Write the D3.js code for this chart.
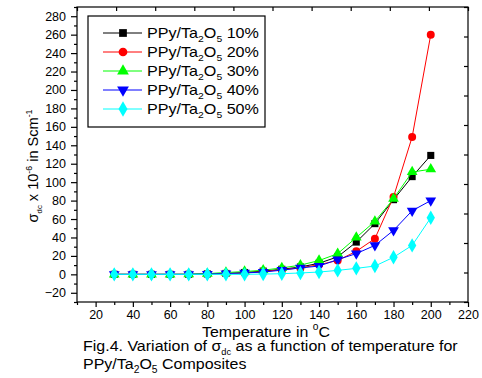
<!DOCTYPE html>
<html>
<head>
<meta charset="utf-8">
<script src="https://cdn.jsdelivr.net/npm/d3@7"></script>
<style>
    body { margin: 0; background: #fff; }
    svg text { font-family: "Liberation Sans", Arial, sans-serif; fill: #000; }
</style>
</head>
<body>
<svg id="chart" width="482" height="378"></svg>
<script>
// temperatures (°C) and conductivity values (x 10^-6 S/cm)
let temps = [30, 40, 50, 60, 70, 80, 90, 100, 110, 120, 130, 140, 150, 160, 170, 180, 190, 200];
let s10 = [0, 0, 0, 0, 0, 0.5, 1, 2, 3.5, 5.5, 8, 12, 19, 35, 55, 81, 106, 129];
let s20 = [0, 0, 0, 0, 0, 0.3, 0.8, 1.5, 3, 5, 7, 10.5, 15, 25, 38.7, 84, 149, 260];
let s30 = [0, 0, 0, 0, 0.2, 0.8, 2, 3, 4.5, 7, 10, 15, 22.4, 40, 57.4, 82, 111, 114];
let s40 = [0, 0, 0, 0, 0, 0.3, 0.8, 1.5, 2.5, 4.5, 7, 9, 16, 22.5, 31.4, 47.7, 69, 80];
let s50 = [0, 0, 0, 0, 0, 0, 0, 0, 0.3, 0.7, 1.5, 2.5, 4.3, 6.5, 9, 18.5, 31.4, 61.4];
let percents = ["10%", "20%", "30%", "40%", "50%"];
let colors = ["#000000", "#ff0000", "#00ff00", "#0000ff", "#00ffff"];
let xTicks = [20, 40, 60, 80, 100, 120, 140, 160, 180, 200, 220];
let yTicks = [-20, 0, 20, 40, 60, 80, 100, 120, 140, 160, 180, 200, 220, 240, 260, 280];

let series = [s10, s20, s30, s40, s50].map(function(vals, i) {
    return {
        name: percents[i],
        color: colors[i],
        shape: [d3.symbolSquare, d3.symbolCircle, d3.symbolTriangle, d3.symbolTriangle, d3.symbolDiamond][i],
        flip: i === 3,
        points: temps.map(function(t, j) { return [t, vals[j]]; })
    };
});

let svg = d3.select("svg#chart"),
    margin = {top: 7, right: 14, bottom: 76, left: 77},
    width = +svg.attr("width") - margin.left - margin.right,
    height = +svg.attr("height") - margin.top - margin.bottom,
    g = svg.append("g").attr("transform", "translate(" + margin.left + "," + margin.top + ")");

let x = d3.scaleLinear().domain([10, 220]).range([0, width]);
let y = d3.scaleLinear().domain([-30, 290]).range([height, 0]);

let line = d3.line()
    .x(function(d) { return x(d[0]); })
    .y(function(d) { return y(d[1]); });

// squeeze / stretch a text horizontally so it spans the given width (the scan isn't square)
function fit(sel, target, before) {
    let w = sel.node().getBBox().width;
    sel.attr("transform", before + " scale(" + (target / w) + ",1)");
    return target / w;
}

// frame
g.append("rect")
    .attr("width", width)
    .attr("height", height)
    .attr("fill", "none")
    .attr("stroke", "#000")
    .attr("stroke-width", 1.2);

// bottom axis, major + minor
g.append("g")
    .attr("transform", "translate(0," + height + ")")
    .call(d3.axisBottom(x).tickValues(xTicks).tickSize(5).tickPadding(3).tickFormat(d3.format("d")));
g.append("g")
    .attr("transform", "translate(0," + height + ")")
    .call(d3.axisBottom(x).tickValues(d3.range(10, 221, 10).filter(function(v) { return v % 20 !== 0; })).tickSize(3).tickFormat(""));

// left axis, major + minor
g.append("g")
    .call(d3.axisLeft(y).tickValues(yTicks).tickSize(6).tickPadding(5).tickFormat(d3.format("d")));
g.append("g")
    .call(d3.axisLeft(y).tickValues(d3.range(-30, 291, 10).filter(function(v) { return v % 20 !== 0; })).tickSize(3).tickFormat(""));

// top and right axes have their own even spacing
g.append("g")
    .call(d3.axisBottom(x).tickValues(d3.range(10, 221, 21)).tickSize(4).tickFormat(""));
g.append("g")
    .attr("transform", "translate(" + width + ",0)")
    .call(d3.axisLeft(y).tickValues(d3.range(-30, 291, 32)).tickSize(4).tickFormat(""));

g.selectAll(".domain").remove();
g.selectAll(".tick line").attr("stroke", "#000").attr("stroke-width", 1.2);
g.selectAll(".tick text").attr("font-size", 12.5).attr("fill", "#000");

// lines and markers
let s = g.selectAll("g.series")
    .data(series)
    .enter().append("g")
    .attr("class", "series");

s.append("path")
    .attr("d", function(d) { return line(d.points); })
    .attr("fill", "none")
    .attr("stroke", function(d) { return d.color; })
    .attr("stroke-width", 1);

s.each(function(d) {
    let sym = d3.symbol().type(d.shape).size(d.shape === d3.symbolDiamond ? 60 : 50);
    d3.select(this).selectAll("path.pt")
        .data(d.points)
        .enter().append("path")
        .attr("class", "pt")
        .attr("d", sym)
        .attr("transform", function(p) {
            return "translate(" + x(p[0]) + "," + y(p[1]) + ")" + (d.flip ? " rotate(180)" : "");
        })
        .attr("fill", d.color);
});

// legend
let legend = g.append("g").attr("transform", "translate(11,9)");
legend.append("rect")
    .attr("width", 177)
    .attr("height", 111)
    .attr("fill", "#fff")
    .attr("stroke", "#000")
    .attr("stroke-width", 1.2);

let item = legend.selectAll("g.item")
    .data(series)
    .enter().append("g")
    .attr("class", "item")
    .attr("transform", function(d, i) { return "translate(0," + (17 + i * 19) + ")"; });

item.append("line")
    .attr("x1", 15).attr("x2", 54)
    .attr("stroke", function(d) { return d.color; })
    .attr("stroke-width", 1);
item.append("path")
    .attr("d", function(d) { return d3.symbol().type(d.shape).size(d.shape === d3.symbolDiamond ? 70 : 60)(); })
    .attr("transform", function(d) { return "translate(35,0)" + (d.flip ? " rotate(180)" : ""); })
    .attr("fill", function(d) { return d.color; });

item.each(function() {
    let lt = d3.select(this).append("text")
        .attr("y", 5)
        .attr("font-size", 14);
    lt.append("tspan").text("PPy/Ta");
    lt.append("tspan").attr("font-size", 9).attr("dy", 4).text("2");
    lt.append("tspan").attr("dy", -4).text("O");
    lt.append("tspan").attr("font-size", 9).attr("dy", 4).text("5");
    lt.append("tspan").attr("dy", -4).text(function(d) { return " " + d.name; });
    fit(lt, 112, "translate(59,0)");
});

// y axis title
let yt = svg.append("text")
    .attr("text-anchor", "middle")
    .attr("font-size", 15);
yt.append("tspan").text("σ");
yt.append("tspan").attr("font-size", 8).attr("dy", 4).text("dc");
yt.append("tspan").attr("dy", -4).text(" x 10");
yt.append("tspan").attr("font-size", 9).attr("dy", -6).text("-6");
yt.append("tspan").attr("dy", 6).text(" in Scm");
yt.append("tspan").attr("font-size", 9).attr("dy", -6).text("-1");
fit(yt, 113, "translate(38,166) rotate(-90)");

// x axis title
let xt = svg.append("text")
    .attr("y", 337)
    .attr("font-size", 15.5);
xt.append("tspan").text("Temperature in ");
xt.append("tspan").attr("font-size", 10).attr("dy", -7).text("o");
xt.append("tspan").attr("dy", 7).text("C");
fit(xt, 128, "translate(202,0)");

// caption
let c1 = svg.append("text").attr("y", 351).attr("font-size", 15.5);
c1.append("tspan").text("Fig.4. Variation of σ");
c1.append("tspan").attr("font-size", 9).attr("dy", 4).text("dc");
c1.append("tspan").attr("dy", -4).text(" as a function of temperature for");
let k = fit(c1, 375, "translate(83,0)");

let c2 = svg.append("text").attr("y", 369).attr("font-size", 15.5);
c2.append("tspan").text("PPy/Ta");
c2.append("tspan").attr("font-size", 10).attr("dy", 4).text("2");
c2.append("tspan").attr("dy", -4).text("O");
c2.append("tspan").attr("font-size", 10).attr("dy", 4).text("5");
c2.append("tspan").attr("dy", -4).text(" Composites");
c2.attr("transform", "translate(83,0) scale(" + k + ",1)");
</script>
</body>
</html>
